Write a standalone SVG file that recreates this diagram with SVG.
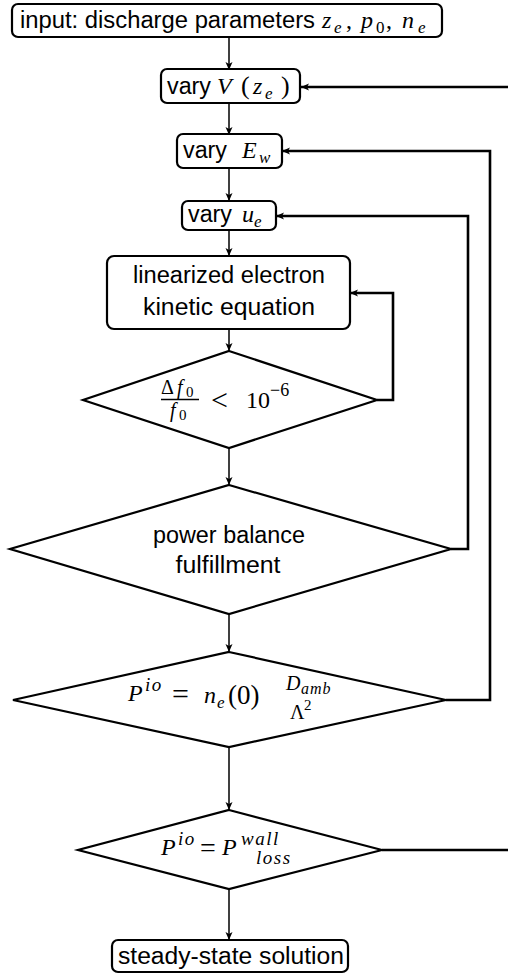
<svg xmlns="http://www.w3.org/2000/svg" width="508" height="975" viewBox="0 0 508 975">
<style>
.box{fill:#fff;stroke:#000;stroke-width:2.2}
.dia{fill:#fff;stroke:#000;stroke-width:2.2;stroke-linejoin:miter}
.t{font-family:"Liberation Sans","DejaVu Sans",sans-serif;font-size:23.5px;fill:#000}
.m{font-family:"Liberation Serif","DejaVu Serif",serif;font-style:italic;font-size:24px;fill:#000}
.r{font-family:"Liberation Serif","DejaVu Serif",serif;font-size:24px;fill:#000}
.s{font-size:17px}
.sp{font-size:19px;letter-spacing:1.5px}
.down{fill:none;stroke:#000;stroke-width:1.5}
.loop{fill:none;stroke:#000;stroke-width:2.6}
</style>
<defs>
<marker id="ah" markerUnits="userSpaceOnUse" markerWidth="10" markerHeight="10" refX="8" refY="4" orient="auto">
<path d="M0,0.5 L8,4 L0,7.5 L2,4 Z" fill="#000"/>
</marker>
</defs>

<g id="connectors">
<line class="down" x1="229" y1="37" x2="229" y2="70" marker-end="url(#ah)"/>
<line class="down" x1="229" y1="103" x2="229" y2="135" marker-end="url(#ah)"/>
<line class="down" x1="229" y1="168" x2="229" y2="201" marker-end="url(#ah)"/>
<line class="down" x1="229" y1="230" x2="229" y2="256" marker-end="url(#ah)"/>
<line class="down" x1="229" y1="329" x2="229" y2="351" marker-end="url(#ah)"/>
<line class="down" x1="229" y1="448" x2="229" y2="485" marker-end="url(#ah)"/>
<line class="down" x1="229" y1="614" x2="229" y2="652" marker-end="url(#ah)"/>
<line class="down" x1="229" y1="747" x2="229" y2="810" marker-end="url(#ah)"/>
<line class="down" x1="229" y1="889" x2="229" y2="940" marker-end="url(#ah)"/>
<polyline class="loop" points="508,87 301,87" marker-end="url(#ah)"/>
<polyline class="loop" points="446,700 490,700 490,151 282,151" marker-end="url(#ah)"/>
<polyline class="loop" points="451,549 468,549 468,216 276,216" marker-end="url(#ah)"/>
<polyline class="loop" points="377,400 393,400 393,293 350,293" marker-end="url(#ah)"/>
<polyline class="loop" points="382,850 508,850"/>
</g>

<g id="input">
<rect class="box" x="12" y="4" width="430" height="33" rx="6"/>
<text class="t" x="20" y="28" textLength="295" lengthAdjust="spacingAndGlyphs">input: discharge parameters</text>
<text class="m" x="322" y="28">z</text>
<text class="m s" x="334" y="33">e</text>
<text class="r" x="346" y="28">,</text>
<text class="m" x="361" y="28">p</text>
<text class="r s" x="376" y="33">0</text>
<text class="r" x="386" y="28">,</text>
<text class="m" x="402" y="28">n</text>
<text class="m s" x="418" y="33">e</text>
</g>

<g id="varyV">
<rect class="box" x="161" y="69" width="139" height="34" rx="6"/>
<text class="t" x="167" y="94" textLength="44" lengthAdjust="spacingAndGlyphs">vary</text>
<text class="m" x="217" y="94">V</text>
<text class="r" x="241" y="94" style="font-size:26px">(</text>
<text class="m" x="253" y="94">z</text>
<text class="m s" x="265" y="99">e</text>
<text class="r" x="281" y="94" style="font-size:26px">)</text>
</g>

<g id="varyEw">
<rect class="box" x="177" y="134" width="105" height="34" rx="6"/>
<text class="t" x="183" y="158" textLength="44" lengthAdjust="spacingAndGlyphs">vary</text>
<text class="m" x="242" y="158">E</text>
<text class="m s" x="259" y="163">w</text>
</g>

<g id="varyUe">
<rect class="box" x="182" y="201" width="94" height="29" rx="6"/>
<text class="t" x="188" y="222" textLength="44" lengthAdjust="spacingAndGlyphs">vary</text>
<text class="m" x="242" y="222">u</text>
<text class="m s" x="254" y="227">e</text>
</g>

<g id="linearized">
<rect class="box" x="107" y="256" width="243" height="73" rx="7"/>
<text class="t" x="229" y="283" text-anchor="middle" textLength="192" lengthAdjust="spacingAndGlyphs">linearized electron</text>
<text class="t" x="229" y="315" text-anchor="middle" textLength="172" lengthAdjust="spacingAndGlyphs">kinetic equation</text>
</g>

<g id="convergence">
<polygon class="dia" points="229,351 377,400 229,448 83,400"/>
<text class="r" x="161" y="394" style="font-size:20px">Δ</text>
<text class="m" x="177" y="394" style="font-size:20px">f</text>
<text class="r" x="186" y="397" style="font-size:15px">0</text>
<line x1="161" y1="399.5" x2="199" y2="399.5" stroke="#000" stroke-width="1.5"/>
<text class="m" x="170" y="417" style="font-size:20px">f</text>
<text class="r" x="179" y="420" style="font-size:15px">0</text>
<text class="r" x="211" y="410" style="font-size:30px">&lt;</text>
<text class="r" x="246" y="408">10</text>
<text class="r" x="270" y="396" style="font-size:18px">−6</text>
</g>

<g id="powerBalance">
<polygon class="dia" points="229,485 451,549 229,614 10,549"/>
<text class="t" x="229" y="543" text-anchor="middle" textLength="152" lengthAdjust="spacingAndGlyphs">power balance</text>
<text class="t" x="228" y="573" text-anchor="middle" textLength="105" lengthAdjust="spacingAndGlyphs">fulfillment</text>
</g>

<g id="ionization">
<polygon class="dia" points="229,652 446,700 229,747 13,700"/>
<text class="m" x="128" y="701">P</text>
<text class="m sp" x="145" y="691">io</text>
<text class="r" x="172" y="704" style="font-size:30px">=</text>
<text class="m" x="204" y="703">n</text>
<text class="m s" x="217" y="708">e</text>
<text class="r" x="228" y="704" style="font-size:27px">(0)</text>
<text class="m" x="286" y="690" style="font-size:20px">D</text>
<text class="m" x="301" y="694" style="font-size:16px;letter-spacing:1px">amb</text>
<text class="r" x="290" y="719" style="font-size:20px">Λ</text>
<text class="r" x="304" y="710" style="font-size:15px">2</text>
</g>

<g id="wallLoss">
<polygon class="dia" points="229,810 382,850 229,889 78,850"/>
<text class="m" x="161" y="855">P</text>
<text class="m sp" x="178" y="845">io</text>
<text class="r" x="200" y="857" style="font-size:28px">=</text>
<text class="m" x="222" y="855">P</text>
<text class="m sp" x="241" y="845">wall</text>
<text class="m sp" x="256" y="864">loss</text>
</g>

<g id="steady">
<rect class="box" x="112" y="940" width="236" height="32" rx="6"/>
<text class="t" x="231" y="964" text-anchor="middle" textLength="226" lengthAdjust="spacingAndGlyphs">steady-state solution</text>
</g>
</svg>
